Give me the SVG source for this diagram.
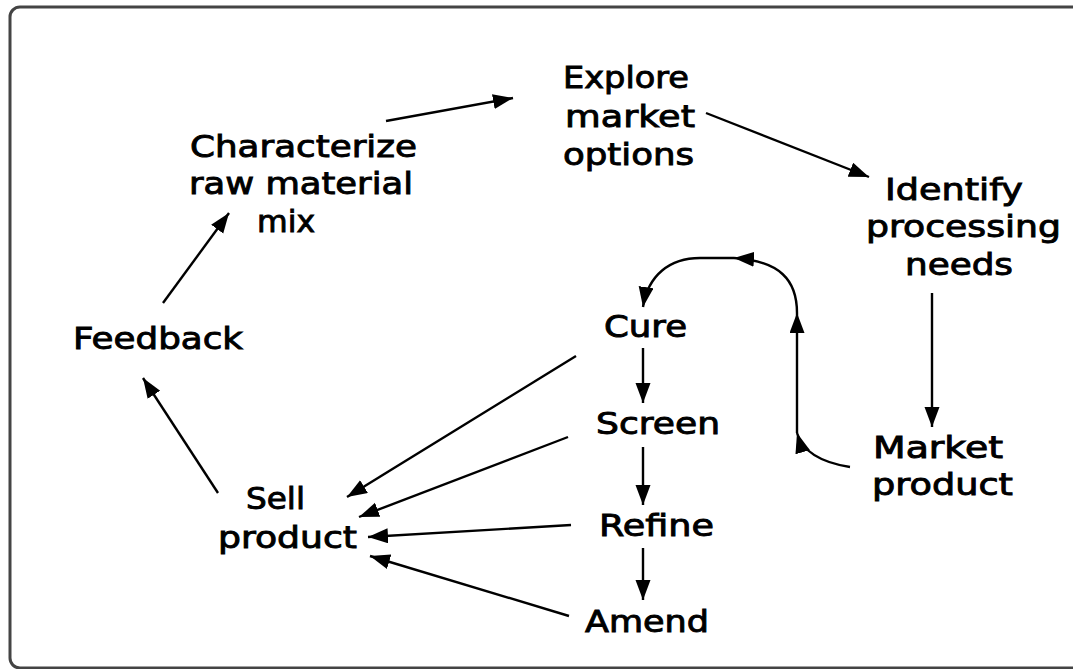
<svg xmlns="http://www.w3.org/2000/svg" width="1073" height="669" viewBox="0 0 1073 669">
<style>
.lbl{font-family:"DejaVu Sans","Liberation Sans",sans-serif;font-size:30px;font-weight:normal;fill:#000;stroke:#000;stroke-width:0.9}
.c{fill:none;stroke:#000;stroke-width:2.4}
</style>
<defs>
<marker id="ah" markerUnits="userSpaceOnUse" markerWidth="22" markerHeight="16" refX="20" refY="7.5" orient="auto" viewBox="0 0 22 16">
<path d="M0,0 L20,7.5 L0,15 z" fill="#000"/>
</marker>
</defs>
<rect x="10" y="7" width="1080" height="661" rx="10" ry="10" fill="#fff" stroke="#444" stroke-width="3"/>
<g id="connectors">
<path class="c" d="M386,121 L513,98" marker-end="url(#ah)"/>
<path class="c" d="M706,113 L869,177" marker-end="url(#ah)"/>
<path class="c" d="M932,293 L932,427" marker-end="url(#ah)"/>
<path class="c" d="M850,467 Q805,460 797,433" marker-end="url(#ah)"/>
<path class="c" d="M797,433 L797,313" marker-end="url(#ah)"/>
<path class="c" d="M797,313 C797,280 780,261 734,258" marker-end="url(#ah)"/>
<path class="c" d="M734,258 L700,258 C670,258 648,275 643,307" marker-end="url(#ah)"/>
<path class="c" d="M643,348 L643,403" marker-end="url(#ah)"/>
<path class="c" d="M643,447 L643,505" marker-end="url(#ah)"/>
<path class="c" d="M643,548 L643,600" marker-end="url(#ah)"/>
<path class="c" d="M576,356 L347,497" marker-end="url(#ah)"/>
<path class="c" d="M568,437 L359,517" marker-end="url(#ah)"/>
<path class="c" d="M571,525 L368,537" marker-end="url(#ah)"/>
<path class="c" d="M569,616 L370,556" marker-end="url(#ah)"/>
<path class="c" d="M218,493 L143,378" marker-end="url(#ah)"/>
<path class="c" d="M163,303 L229,213" marker-end="url(#ah)"/>
</g>
<g id="characterize">
<text class="lbl" x="190" y="157" textLength="227" lengthAdjust="spacingAndGlyphs">Characterize</text>
<text class="lbl" x="189" y="194" textLength="224" lengthAdjust="spacingAndGlyphs">raw material</text>
<text class="lbl" x="257" y="232" textLength="58" lengthAdjust="spacingAndGlyphs">mix</text>
</g>
<g id="explore">
<text class="lbl" x="563" y="88" textLength="126" lengthAdjust="spacingAndGlyphs">Explore</text>
<text class="lbl" x="565" y="127" textLength="130" lengthAdjust="spacingAndGlyphs">market</text>
<text class="lbl" x="563" y="165" textLength="131" lengthAdjust="spacingAndGlyphs">options</text>
</g>
<g id="identify">
<text class="lbl" x="885" y="200" textLength="138" lengthAdjust="spacingAndGlyphs">Identify</text>
<text class="lbl" x="866" y="237" textLength="195" lengthAdjust="spacingAndGlyphs">processing</text>
<text class="lbl" x="905" y="275" textLength="108" lengthAdjust="spacingAndGlyphs">needs</text>
</g>
<g id="feedback">
<text class="lbl" x="73" y="349" textLength="170" lengthAdjust="spacingAndGlyphs">Feedback</text>
</g>
<g id="sell">
<text class="lbl" x="246" y="509" textLength="59" lengthAdjust="spacingAndGlyphs">Sell</text>
<text class="lbl" x="218" y="548" textLength="139" lengthAdjust="spacingAndGlyphs">product</text>
</g>
<g id="market">
<text class="lbl" x="873" y="458" textLength="130" lengthAdjust="spacingAndGlyphs">Market</text>
<text class="lbl" x="872" y="495" textLength="141" lengthAdjust="spacingAndGlyphs">product</text>
</g>
<g id="cure"><text class="lbl" x="604" y="337" textLength="83" lengthAdjust="spacingAndGlyphs">Cure</text></g>
<g id="screen"><text class="lbl" x="596" y="434" textLength="124" lengthAdjust="spacingAndGlyphs">Screen</text></g>
<g id="refine"><text class="lbl" x="599" y="536" textLength="115" lengthAdjust="spacingAndGlyphs">Refine</text></g>
<g id="amend"><text class="lbl" x="585" y="632" textLength="124" lengthAdjust="spacingAndGlyphs">Amend</text></g>
</svg>
